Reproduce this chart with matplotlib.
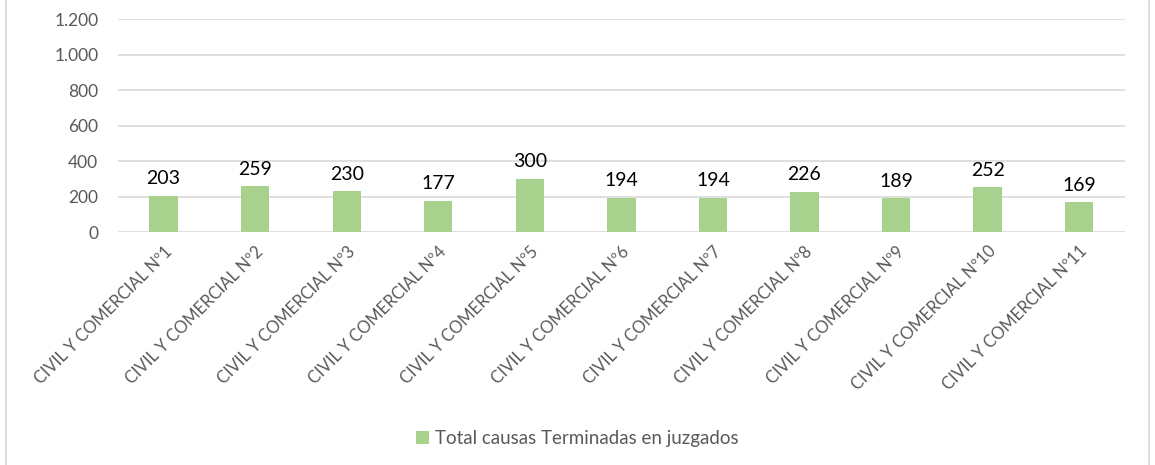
import numpy as np
import matplotlib
matplotlib.use('Agg')
from matplotlib import pyplot as plt
from matplotlib.patches import Rectangle

plt.rcParams['font.family'] = ['Lato', 'DejaVu Sans']

categories = ['CIVIL Y COMERCIAL Nº%d' % i for i in range(1, 12)]
values = [203, 259, 230, 177, 300, 194, 194, 226, 189, 252, 169]
series_name = 'Total causas Terminadas en juzgados'
yticks = [0, 200, 400, 600, 800, 1000, 1200]
ytick_labels = ['0', '200', '400', '600', '800', '1.000', '1.200']

bar_color = '#A9D18E'
grid_color = '#D9D9D9'
text_gray = '#595959'

fig = plt.figure(figsize=(11.55, 4.65), dpi=100)
ax = fig.add_axes([0.102, 0.501, 0.872, 0.458])

x = np.arange(len(categories))
bars = ax.bar(x, values, width=0.31, color=bar_color, label=series_name, zorder=3)

# value labels above each bar
for xi, v in zip(x, values):
    ax.text(xi, v + 48, str(v), ha='center', va='bottom', fontsize=14, color='black')

ax.set_xlim(-0.5, len(categories) - 0.5)
ax.set_ylim(0, 1200)
ax.set_yticks(yticks)
ax.set_yticklabels(ytick_labels, fontsize=12.5, color=text_gray)
ax.set_xticks(x)
ax.set_xticklabels(categories, rotation=45, ha='right', va='top', rotation_mode='anchor',
                   fontsize=12, color=text_gray)
ax.tick_params(axis='both', length=0)
ax.tick_params(axis='y', pad=14)
ax.tick_params(axis='x', pad=8)
ax.grid(axis='y', color=grid_color, linewidth=1.2, zorder=0)
for s in ax.spines.values():
    s.set_visible(False)

fig.legend(handles=[bars], labels=[series_name], loc='center', bbox_to_anchor=(0.5, 0.057),
           frameon=False, fontsize=13.5, handlelength=0.7, handleheight=0.7, handletextpad=0.3,
           labelcolor=text_gray)

# light outer frame like the original chart area
fig.patches.append(Rectangle((6 / 1155, -0.01), 1143 / 1155, 1.05, transform=fig.transFigure,
                             fill=False, edgecolor=grid_color, linewidth=1.2))

fig.savefig('out.png', dpi=100)
